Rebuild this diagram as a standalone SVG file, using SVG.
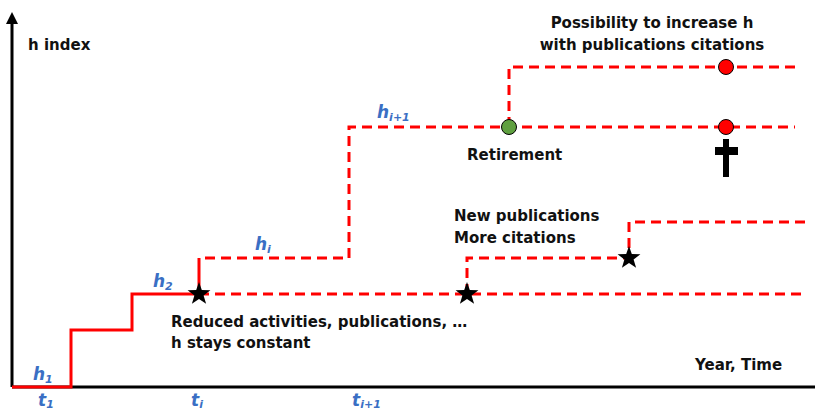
<svg xmlns="http://www.w3.org/2000/svg" width="815" height="413" viewBox="0 0 815 413">
<defs>
<style>
.lbl{font-family:"DejaVu Sans",Verdana,sans-serif;font-weight:bold;font-size:15px;fill:#111}
.var{font-family:"DejaVu Sans",Verdana,sans-serif;font-weight:bold;font-style:italic;font-size:17px;fill:#3A6FC4}
.sub{font-size:11px}
.solid{fill:none;stroke:#FF0000;stroke-width:3}
.dash{fill:none;stroke:#FF0000;stroke-width:3;stroke-dasharray:10 6}
.axis{fill:none;stroke:#000;stroke-width:3}
</style>
<marker id="arr" viewBox="0 0 10 10" refX="5" refY="5" markerWidth="4" markerHeight="4" orient="auto"><path d="M0,0 L10,5 L0,10 z" fill="#000"/></marker>
<path id="star" d="M0,-12 L2.8,-3.9 L11.4,-3.7 L4.6,1.5 L7.1,9.8 L0,4.9 L-7.1,9.8 L-4.6,1.5 L-11.4,-3.7 L-2.8,-3.9 Z" fill="#000"/>
</defs>
<rect width="815" height="413" fill="#fff"/>
<g id="axes">
<line class="axis" x1="12" y1="387" x2="815" y2="387"/>
<line class="axis" x1="12" y1="387" x2="12" y2="18" marker-end="url(#arr)"/>
</g>
<g id="connectors">
<path class="solid" d="M12,387 H71 V330 H132 V294 H199 V258"/>
<path class="dash" d="M205,258 H349 V127 H509 H795"/>
<path class="dash" d="M509,127 V67 H795"/>
<path class="dash" d="M199,294 H806"/>
<path class="dash" d="M467,294 V258 H629 V222 H806"/>
</g>
<g id="markers">
<use href="#star" x="199" y="294"/>
<use href="#star" x="467" y="294"/>
<use href="#star" x="629" y="258"/>
<circle cx="509" cy="127" r="7.5" fill="#5FA040" stroke="#000" stroke-width="1"/>
<circle cx="726" cy="67" r="7.5" fill="#FF0000" stroke="#000" stroke-width="1"/>
<circle cx="726" cy="127" r="7.5" fill="#FF0000" stroke="#000" stroke-width="1"/>
<g id="cross" fill="#000">
<rect x="723" y="139" width="6" height="38"/>
<rect x="715" y="147" width="23" height="8"/>
</g>
</g>
<g id="labels">
<text class="lbl" x="28" y="50" font-size="16">h index</text>
<text class="lbl" x="652" y="28" text-anchor="middle">Possibility to increase h</text>
<text class="lbl" x="652" y="50" text-anchor="middle">with publications citations</text>
<text class="lbl" x="467" y="160">Retirement</text>
<text class="lbl" x="454" y="221">New publications</text>
<text class="lbl" x="454" y="243">More citations</text>
<text class="lbl" x="171" y="327">Reduced activities, publications, …</text>
<text class="lbl" x="171" y="348">h stays constant</text>
<text class="lbl" x="695" y="370">Year, Time</text>
</g>
<g id="vars">
<text class="var" x="33" y="380">h<tspan class="sub" dy="3">1</tspan></text>
<text class="var" x="153" y="287">h<tspan class="sub" dy="3">2</tspan></text>
<text class="var" x="255" y="250">h<tspan class="sub" dy="3">i</tspan></text>
<text class="var" x="377" y="118">h<tspan class="sub" dy="3">i+1</tspan></text>
<text class="var" x="38" y="406">t<tspan class="sub" dy="2">1</tspan></text>
<text class="var" x="191" y="406">t<tspan class="sub" dy="2">i</tspan></text>
<text class="var" x="352" y="406">t<tspan class="sub" dy="2">i+1</tspan></text>
</g>
</svg>
